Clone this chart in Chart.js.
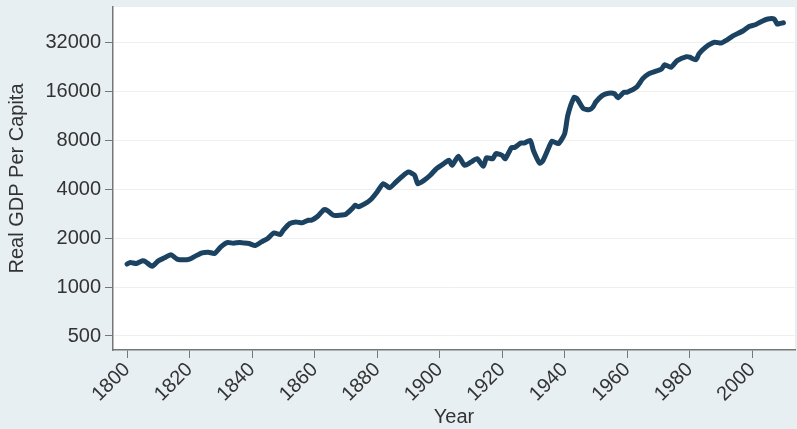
<!DOCTYPE html>
<html>
<head>
<meta charset="utf-8">
<script src="https://cdn.jsdelivr.net/npm/chart.js@4"></script>
<style>
  body { margin: 0; background: #e8eff2; }
  canvas { display: block; }
</style>
</head>
<body>
<canvas id="gdpChart" width="797" height="429"></canvas>
<script>
// === data ===
const years = [1800, 1801, 1803, 1805, 1806, 1808, 1810, 1812, 1814, 1816, 1818, 1820,
  1822, 1824, 1826, 1828, 1830, 1832, 1834, 1836, 1837, 1839, 1841, 1843, 1845, 1847,
  1849, 1850, 1852, 1854, 1856, 1858, 1859, 1861, 1863, 1864, 1866, 1868, 1870, 1872,
  1873, 1874, 1876, 1878, 1880, 1882, 1884, 1886, 1888, 1890, 1892, 1893, 1895, 1897,
  1899, 1901, 1903, 1904, 1906, 1908, 1910, 1912, 1914, 1915, 1917, 1918, 1920, 1921,
  1923, 1924, 1926, 1927, 1929, 1930, 1932, 1933, 1935, 1936, 1938, 1940, 1941, 1943,
  1944, 1946, 1948, 1949, 1950, 1952, 1954, 1956, 1957, 1959, 1960, 1963, 1965, 1967,
  1969, 1971, 1972, 1974, 1976, 1979, 1980, 1982, 1983, 1985, 1988, 1990, 1992, 1994,
  1997, 1999, 2001, 2003, 2005, 2007, 2008, 2009, 2010];
const gdp = [1385, 1418, 1398, 1451, 1430, 1346, 1451, 1514, 1582, 1486, 1471, 1486,
  1557, 1624, 1641, 1611, 1769, 1880, 1865, 1880, 1872, 1855, 1803, 1899, 1990, 2155,
  2105, 2241, 2460, 2519, 2486, 2580, 2580, 2730, 2999, 2970, 2770, 2770, 2810, 3040,
  3190, 3120, 3250, 3460, 3850, 4330, 4090, 4430, 4800, 5110, 4880, 4330, 4540, 4880,
  5370, 5700, 6030, 5620, 6390, 5620, 5880, 6170, 5540, 6250, 6170, 6630, 6470, 6170,
  7230, 7230, 7700, 7700, 8000, 6940, 5800, 5980, 7290, 7920, 7640, 8800, 11400, 14700,
  14400, 12540, 12380, 12800, 13800, 15100, 15620, 15500, 14650, 15840, 15840, 17000, 19200, 20600,
  21300, 22000, 23400, 22560, 24800, 26200, 26000, 25100, 27300, 29900, 32200, 31800, 33300, 35300,
  37700, 40200, 41200, 43200, 44700, 44700, 41600, 42000, 42400];
const yTicks = [500, 1000, 2000, 4000, 8000, 16000, 32000];
const xTicks = [1800, 1820, 1840, 1860, 1880, 1900, 1920, 1940, 1960, 1980, 2000];

// white plot area on the grey-blue page
const plotBackground = {
  id: "plotBackground",
  beforeDraw(chart) {
    const { ctx, chartArea: a } = chart;
    ctx.save();
    ctx.fillStyle = "#ffffff";
    ctx.fillRect(a.left, a.top, a.right - a.left, a.bottom - a.top);
    ctx.restore();
  }
};

const font = { family: "Liberation Sans, Arial, sans-serif", size: 20 };

new Chart(document.getElementById("gdpChart"), {
  type: "line",
  data: {
    datasets: [{
      data: years.map((y, i) => ({ x: y, y: gdp[i] })),
      borderColor: "#1c4262",
      borderWidth: 5,
      pointRadius: 0,
      tension: 0.2,
      borderJoinStyle: "round",
      borderCapStyle: "round",
      fill: false
    }]
  },
  options: {
    responsive: false,
    animation: false,
    layout: { padding: { top: 7, right: 2, left: 0, bottom: 0 } },
    plugins: { legend: { display: false }, tooltip: { enabled: false } },
    scales: {
      x: {
        type: "linear",
        min: 1795.5,
        max: 2013.7,
        afterBuildTicks: s => { s.ticks = xTicks.map(v => ({ value: v })); },
        afterFit: s => { s.height = 79; s.paddingLeft = 0; s.paddingRight = 0; },
        ticks: {
          autoSkip: false,
          minRotation: 45,
          maxRotation: 45,
          padding: 0,
          color: "#333",
          font: font,
          callback: v => String(v)
        },
        grid: { drawOnChartArea: false, tickLength: 8, tickColor: "#777", lineWidth: 1 },
        border: { color: "#777", width: 1.5 },
        title: { display: true, text: "Year", color: "#333", font: font, padding: { top: 0, bottom: 0 } }
      },
      y: {
        type: "logarithmic",
        min: 410,
        max: 53000,
        afterBuildTicks: s => { s.ticks = yTicks.map(v => ({ value: v })); },
        afterFit: s => { s.width = 113; s.paddingTop = 0; s.paddingBottom = 0; },
        ticks: {
          padding: 4,
          color: "#333",
          font: font,
          callback: v => String(v)
        },
        grid: { color: "#efefef", tickLength: 8, tickColor: "#777", lineWidth: 1 },
        border: { color: "#777", width: 1.5 },
        title: { display: true, text: "Real GDP Per Capita", color: "#333", font: font, padding: { top: 5, bottom: 0 } }
      }
    }
  },
  plugins: [plotBackground]
});
</script>
</body>
</html>
